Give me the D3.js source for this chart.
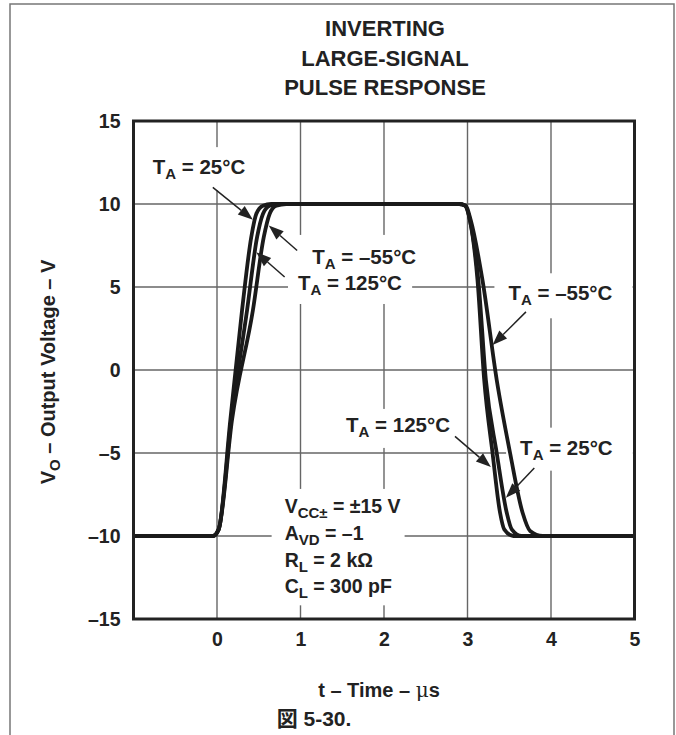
<!DOCTYPE html>
<html><head><meta charset="utf-8">
<script src="https://cdn.jsdelivr.net/npm/d3@7"></script>
<style>
body{margin:0;background:#fff}
text{font-family:"Liberation Sans",Arial,Helvetica,sans-serif;font-weight:bold;fill:#222}
</style>
</head><body><svg id="c" width="676" height="735"></svg>
<script>
// ---------- data ----------
const xTicks = [0, 1, 2, 3, 4, 5];
const xTickLabels = ["0", "1", "2", "3", "4", "5"];
const yTicks = [-15, -10, -5, 0, 5, 10, 15];
const yTickLabels = ["–15", "–10", "–5", "0", "5", "10", "15"];
const titleLines = ["INVERTING", "LARGE-SIGNAL", "PULSE RESPONSE"];
const seriesNames = ["25°C", "125°C", "–55°C"];
// T_A = 25°C
const time25 = [-1, -0.05, 0.02, 0.16, 0.30, 0.41, 0.47, 0.55, 0.65, 2.9, 2.97, 3.03, 3.13, 3.22, 3.35, 3.47, 3.53, 3.65, 5];
const volt25 = [-10, -10, -9.6, -3, 3.6, 8, 9.4, 9.9, 10, 10, 9.9, 9.0, 5.4, -0.6, -5, -8.6, -9.6, -10, -10];
// T_A = 125°C
const time125 = [-1, -0.05, 0.02, 0.17, 0.36, 0.48, 0.55, 0.63, 0.73, 2.9, 2.97, 3.03, 3.12, 3.20, 3.30, 3.39, 3.44, 3.55, 5];
const volt125 = [-10, -10, -9.6, -3, 3.6, 8, 9.4, 9.9, 10, 10, 9.9, 9.0, 5.4, -0.6, -5, -8.6, -9.6, -10, -10];
// T_A = -55°C
const timeM55 = [-1, -0.05, 0.02, 0.18, 0.43, 0.56, 0.63, 0.71, 0.83, 2.9, 2.98, 3.04, 3.18, 3.35, 3.51, 3.66, 3.75, 3.9, 5];
const voltM55 = [-10, -10, -9.6, -3, 3.6, 8, 9.4, 9.9, 10, 10, 9.9, 9.0, 5.4, -0.6, -5, -8.6, -9.7, -10, -10];
const conditions = [["V", "CC±", " = ±15 V"], ["A", "VD", " = –1"], ["R", "L", " = 2 kΩ"], ["C", "L", " = 300 pF"]];

// ---------- layout ----------
const svg = d3.select("#c");
const x = d3.scaleLinear().domain([-1, 5]).range([133.5, 634.5]);
const y = d3.scaleLinear().domain([-15, 15]).range([619, 121]);

// page border
svg.append("path").attr("d", "M10,735 V4 H674 V735").attr("fill", "none")
  .attr("stroke", "#777").attr("stroke-width", 1.5);

// title
svg.append("g").selectAll("text").data(titleLines).join("text")
  .attr("x", 385).attr("y", (d, i) => 36 + i * 29.5)
  .attr("text-anchor", "middle").attr("font-size", 22).text(d => d);

// grid
const grid = svg.append("g").attr("stroke", "#666").attr("stroke-width", 1.4);
grid.selectAll(".vg").data(xTicks.filter(d => d < 5)).join("line")
  .attr("x1", d => x(d)).attr("x2", d => x(d)).attr("y1", y(15)).attr("y2", y(-15));
grid.selectAll(".hg").data(yTicks.filter(d => d > -15 && d < 15)).join("line")
  .attr("x1", x(-1)).attr("x2", x(5)).attr("y1", d => y(d)).attr("y2", d => y(d));

const maskG = svg.append("g");
const curveG = svg.append("g");
const frameG = svg.append("g");
const labelG = svg.append("g");

// axes (labels only, drawn with d3 axes)
const xAxis = d3.axisBottom(x).tickValues(xTicks).tickFormat((d, i) => xTickLabels[i]).tickSize(0).tickPadding(13);
svg.append("g").attr("transform", `translate(0,${y(-15)})`).call(xAxis)
  .call(g => g.select(".domain").remove())
  .call(g => g.selectAll("text").attr("font-size", 19.5).attr("fill", "#222").attr("font-family", null));
const yAxis = d3.axisLeft(y).tickValues(yTicks).tickFormat((d, i) => yTickLabels[i]).tickSize(0).tickPadding(13);
svg.append("g").attr("transform", `translate(${x(-1)},0)`).call(yAxis)
  .call(g => g.select(".domain").remove())
  .call(g => g.selectAll("text").attr("font-size", 19.5).attr("fill", "#222").attr("font-family", null));

// frame
frameG.append("rect").attr("x", x(-1)).attr("y", y(15)).attr("width", x(5) - x(-1)).attr("height", y(-15) - y(15))
  .attr("fill", "none").attr("stroke", "#222").attr("stroke-width", 3);

// curves
const line = d3.line().x(d => x(d[0])).y(d => y(d[1])).curve(d3.curveMonotoneX);
const seriesData = [d3.zip(time25, volt25), d3.zip(time125, volt125), d3.zip(timeM55, voltM55)];
curveG.selectAll("path").data(seriesData).join("path")
  .attr("d", line).attr("fill", "none").attr("stroke", "#1a1a1a").attr("stroke-width", 3.8)
  .attr("stroke-linejoin", "round");

// axis titles
const yl = svg.append("text").attr("transform", "translate(55,372) rotate(-90)").attr("text-anchor", "middle").attr("font-size", 20);
yl.append("tspan").text("V");
yl.append("tspan").attr("font-size", 15).attr("dy", 5).text("O");
yl.append("tspan").attr("dy", -5).text(" – Output Voltage – V");
const xl = svg.append("text").attr("x", 379).attr("y", 697).attr("text-anchor", "middle").attr("font-size", 20);
xl.append("tspan").text("t – Time – ");
xl.append("tspan").attr("font-weight", "normal").attr("font-family", "DejaVu Serif").text("μ");
xl.append("tspan").text("s");
const fig = svg.append("text").attr("x", 314).attr("y", 726).attr("text-anchor", "middle").attr("font-size", 21);
fig.append("tspan").attr("font-family", "Noto Sans CJK JP").text("図");
fig.append("tspan").text(" 5-30.");

// annotations
function addMask(node, pad) {
  const b = node.getBBox();
  maskG.append("rect").attr("x", b.x - pad[3]).attr("y", b.y - pad[0])
    .attr("width", b.width + pad[1] + pad[3]).attr("height", b.height + pad[0] + pad[2]).attr("fill", "#fff");
}
function tempLabel(t, v, name, anchor, pad) {
  const tx = labelG.append("text").attr("x", x(t)).attr("y", y(v)).attr("font-size", 20.5).attr("text-anchor", anchor);
  tx.append("tspan").text("T");
  tx.append("tspan").attr("font-size", 15).attr("dy", 5).text("A");
  tx.append("tspan").attr("dy", -5).text(" = " + name);
  addMask(tx.node(), pad);
}
function arrow(t0, v0, t1, v1) {
  const x0 = x(t0), y0 = y(v0), x1 = x(t1), y1 = y(v1);
  const a = Math.atan2(y1 - y0, x1 - x0), L = 15, W = 5.5;
  const bx = x1 - L * Math.cos(a), by = y1 - L * Math.sin(a);
  labelG.append("line").attr("x1", x0).attr("y1", y0).attr("x2", bx).attr("y2", by)
    .attr("stroke", "#222").attr("stroke-width", 1.5);
  labelG.append("path").attr("fill", "#222")
    .attr("d", `M${x1},${y1} L${bx - W * Math.sin(a)},${by + W * Math.cos(a)} L${bx + W * Math.sin(a)},${by - W * Math.cos(a)} Z`);
}
tempLabel(-0.77, 11.8, seriesNames[0], "start", [8, 8, 8, 8]);
arrow(-0.05, 11.0, 0.43, 9.05);
tempLabel(1.14, 6.39, seriesNames[2], "start", [10, 8, 2, 14]);
arrow(0.96, 7.2, 0.62, 8.7);
tempLabel(0.97, 4.82, seriesNames[1], "start", [2, 10, 6, 10]);
arrow(0.81, 5.6, 0.47, 7.1);
tempLabel(3.49, 4.2, seriesNames[2], "start", [8, 20, 10, 14]);
arrow(3.70, 3.5, 3.30, 1.5);
tempLabel(2.79, -3.73, seriesNames[1], "end", [4, 8, 8, 8]);
arrow(2.85, -4.0, 3.28, -5.85);
tempLabel(3.63, -5.1, seriesNames[0], "start", [8, 20, 8, 14]);
arrow(3.80, -5.9, 3.46, -7.7);

const cond = labelG.append("g");
conditions.forEach((c, i) => {
  const tx = cond.append("text").attr("x", x(0.81)).attr("y", y(-8.61) + i * 26.8).attr("font-size", 19.5);
  tx.append("tspan").text(c[0]);
  tx.append("tspan").attr("font-size", 15).attr("dy", 5).text(c[1]);
  tx.append("tspan").attr("dy", -5).text(c[2]);
});
addMask(cond.node(), [6, 4, 4, 13]);
</script></body></html>
